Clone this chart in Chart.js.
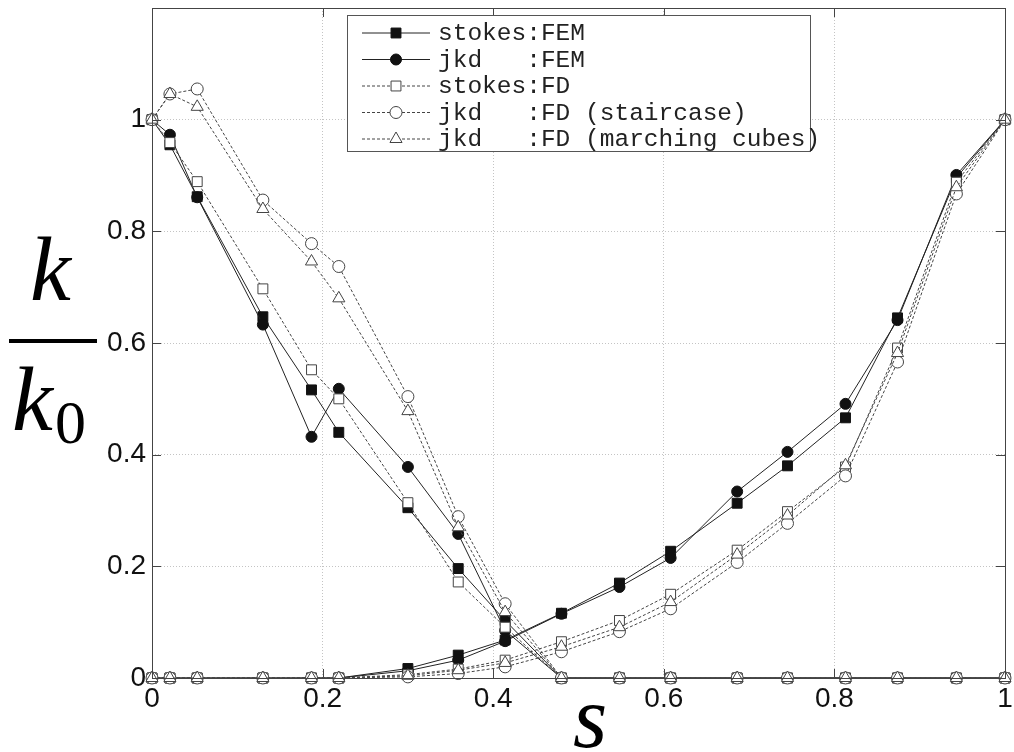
<!DOCTYPE html>
<html>
<head>
<meta charset="utf-8">
<script src="https://cdn.jsdelivr.net/npm/chart.js@4.4.0/dist/chart.umd.min.js"></script>
<style>
  html, body { margin: 0; padding: 0; background: #fff; }
</style>
</head>
<body>
<canvas id="chart" width="1014" height="752"></canvas>
<script>
// sampled saturation values s
const sValues = [0, 0.021, 0.053, 0.13, 0.187, 0.219, 0.30, 0.359, 0.414, 0.48, 0.548, 0.608, 0.686, 0.745, 0.813, 0.874, 0.943, 1];

// each model has a falling branch (first phase) and a rising branch (second phase)
const stokesFemDown = [1, 0.955, 0.862, 0.647, 0.516, 0.440, 0.305, 0.196, 0.103, 0, 0, 0, 0, 0, 0, 0, 0, 0];
const stokesFemUp   = [0, 0, 0, 0, 0, 0, 0.017, 0.041, 0.068, 0.116, 0.170, 0.227, 0.313, 0.380, 0.466, 0.645, 0.896, 1];
const jkdFemDown    = [1, 0.973, 0.861, 0.633, 0.432, 0.518, 0.378, 0.258, 0.085, 0, 0, 0, 0, 0, 0, 0, 0, 0];
const jkdFemUp      = [0, 0, 0, 0, 0, 0, 0.013, 0.032, 0.066, 0.115, 0.163, 0.215, 0.334, 0.405, 0.491, 0.641, 0.901, 1];
const stokesFdDown  = [1, 0.959, 0.889, 0.697, 0.552, 0.500, 0.314, 0.172, 0.091, 0, 0, 0, 0, 0, 0, 0, 0, 0];
const stokesFdUp    = [0, 0, 0, 0, 0, 0, 0.006, 0.016, 0.032, 0.065, 0.103, 0.150, 0.229, 0.298, 0.378, 0.591, 0.888, 1];
const jkdStairDown  = [1, 1.046, 1.055, 0.856, 0.778, 0.737, 0.504, 0.289, 0.133, 0, 0, 0, 0, 0, 0, 0, 0, 0];
const jkdStairUp    = [0, 0, 0, 0, 0, 0, 0.002, 0.008, 0.020, 0.047, 0.083, 0.124, 0.207, 0.277, 0.362, 0.566, 0.867, 1];
const jkdCubesDown  = [1, 1.046, 1.023, 0.840, 0.746, 0.680, 0.478, 0.270, 0.118, 0, 0, 0, 0, 0, 0, 0, 0, 0];
const jkdCubesUp    = [0, 0, 0, 0, 0, 0, 0.004, 0.014, 0.027, 0.056, 0.091, 0.136, 0.221, 0.291, 0.381, 0.582, 0.879, 1];

const legendLabels = [
  "stokes:FEM",
  "jkd   :FEM",
  "stokes:FD",
  "jkd   :FD (staircase)",
  "jkd   :FD (marching cubes)"
];

const xTicks = [0, 0.2, 0.4, 0.6, 0.8, 1];
const yTicks = [0, 0.2, 0.4, 0.6, 0.8, 1];

const styles = [
  { pointStyle: "rect",     radius: 7,   fill: "#111", stroke: "#111", line: "#222", dash: [] },
  { pointStyle: "circle",   radius: 5.5, fill: "#111", stroke: "#111", line: "#222", dash: [] },
  { pointStyle: "rect",     radius: 7,   fill: "#fff", stroke: "#444", line: "#444", dash: [3, 2] },
  { pointStyle: "circle",   radius: 6,   fill: "#fff", stroke: "#444", line: "#444", dash: [3, 2] },
  { pointStyle: "triangle", radius: 7,   fill: "#fff", stroke: "#444", line: "#444", dash: [3, 2] }
];

const branches = [
  [stokesFemDown, stokesFemUp],
  [jkdFemDown, jkdFemUp],
  [stokesFdDown, stokesFdUp],
  [jkdStairDown, jkdStairUp],
  [jkdCubesDown, jkdCubesUp]
];

const toPoints = ys => sValues.map((s, i) => ({ x: s, y: ys[i] }));

const datasets = [];
branches.forEach((pair, k) => {
  const st = styles[k];
  pair.forEach((ys, j) => {
    datasets.push({
      label: legendLabels[k],
      data: toPoints(ys),
      borderColor: st.line,
      borderWidth: 1,
      borderDash: st.dash,
      pointStyle: st.pointStyle,
      pointRadius: st.radius,
      pointBackgroundColor: st.fill,
      pointBorderColor: st.stroke,
      pointBorderWidth: 1,
      tension: 0,
      fill: false,
      clip: false,
      order: 20 - (k * 2 + j)
    });
  });
});

// inward tick marks, frame, legend box and the big axis labels
const decorations = {
  id: "decorations",
  afterDraw(chart) {
    const { ctx, chartArea: a, scales } = chart;
    ctx.save();
    ctx.strokeStyle = "#444";
    ctx.lineWidth = 1;
    ctx.setLineDash([]);
    ctx.beginPath();
    xTicks.forEach(v => {
      const px = Math.round(scales.x.getPixelForValue(v)) + 0.5;
      ctx.moveTo(px, a.bottom); ctx.lineTo(px, a.bottom - 9);
      ctx.moveTo(px, a.top); ctx.lineTo(px, a.top + 9);
    });
    yTicks.forEach(v => {
      const py = Math.round(scales.y.getPixelForValue(v)) + 0.5;
      ctx.moveTo(a.left, py); ctx.lineTo(a.left + 9, py);
      ctx.moveTo(a.right, py); ctx.lineTo(a.right - 9, py);
    });
    ctx.stroke();
    ctx.strokeRect(a.left + 0.5, a.top + 0.5, a.right - a.left, a.bottom - a.top);

    // legend
    const box = { x: 347.5, y: 15.5, w: 463, h: 136 };
    ctx.fillStyle = "#fff";
    ctx.fillRect(box.x, box.y, box.w, box.h);
    ctx.strokeStyle = "#555";
    ctx.strokeRect(box.x, box.y, box.w, box.h);
    ctx.font = '24.5px "Liberation Mono", monospace';
    ctx.textBaseline = "middle";
    ctx.textAlign = "left";
    legendLabels.forEach((label, k) => {
      const st = styles[k];
      const y = 33 + k * 26.5;
      ctx.strokeStyle = st.line;
      ctx.lineWidth = 1;
      ctx.setLineDash(st.dash);
      ctx.beginPath();
      ctx.moveTo(362, y); ctx.lineTo(430, y);
      ctx.stroke();
      ctx.setLineDash([]);
      ctx.fillStyle = st.fill;
      ctx.strokeStyle = st.stroke;
      Chart.helpers.drawPoint(ctx, { pointStyle: st.pointStyle, radius: st.radius, rotation: 0, borderWidth: 1 }, 396, y);
      ctx.fillStyle = "#222";
      ctx.fillText(label, 438, y + 1);
    });

    // k / k0 and s
    ctx.fillStyle = "#000";
    ctx.textBaseline = "alphabetic";
    ctx.font = 'italic 92px "Liberation Serif", serif';
    ctx.fillText("k", 30, 300);
    ctx.fillText("k", 12, 430);
    ctx.font = '62px "Liberation Serif", serif';
    ctx.fillText("0", 55, 443);
    ctx.fillRect(9, 339, 88, 4);
    ctx.font = 'italic 88px "Liberation Serif", serif';
    ctx.textAlign = "center";
    ctx.fillText("s", 590, 747);
    ctx.restore();
  }
};

new Chart(document.getElementById("chart"), {
  type: "line",
  data: { datasets },
  options: {
    responsive: false,
    animation: false,
    devicePixelRatio: 1,
    layout: { padding: { top: 5, right: 9, left: 0, bottom: 0 } },
    plugins: { legend: { display: false }, tooltip: { enabled: false } },
    scales: {
      x: {
        type: "linear",
        min: 0,
        max: 1,
        afterFit: sc => { sc.height = 74; sc.paddingLeft = 0; sc.paddingRight = 0; },
        afterBuildTicks: sc => { sc.ticks = xTicks.map(v => ({ value: v })); },
        ticks: {
          color: "#111",
          font: { family: "Liberation Sans", size: 28 },
          padding: 4,
          maxRotation: 0,
          callback: v => String(+v.toFixed(1))
        },
        grid: { color: "#c4c4c4", drawTicks: false, lineWidth: 1 },
        border: { display: false, dash: [1, 2] }
      },
      y: {
        type: "linear",
        min: 0,
        max: 1.2,
        afterFit: sc => { sc.width = 152; sc.paddingTop = 0; sc.paddingBottom = 0; },
        afterBuildTicks: sc => { sc.ticks = yTicks.map(v => ({ value: v })); },
        ticks: {
          color: "#111",
          font: { family: "Liberation Sans", size: 28 },
          padding: 6,
          callback: v => String(+v.toFixed(1))
        },
        grid: { color: "#c4c4c4", drawTicks: false, lineWidth: 1 },
        border: { display: false, dash: [1, 2] }
      }
    }
  },
  plugins: [decorations]
});
</script>
</body>
</html>
